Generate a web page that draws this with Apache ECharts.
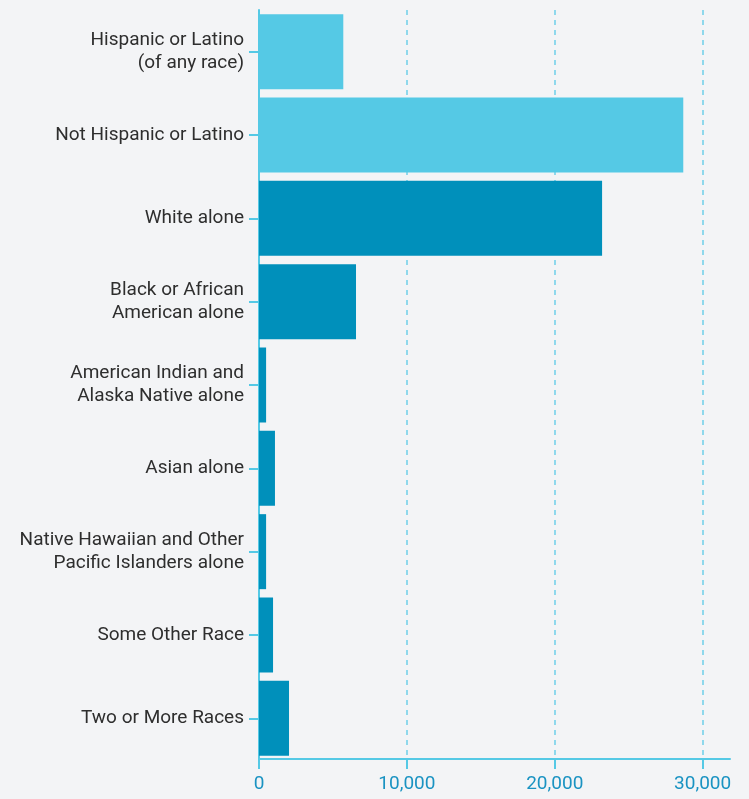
<!DOCTYPE html>
<html><head><meta charset="utf-8">
<script src="https://cdn.jsdelivr.net/npm/echarts@6/dist/echarts.min.js"></script>
<style>html,body{margin:0;padding:0;background:#F3F4F6;}#c{width:749px;height:799px;}</style>
</head><body><div id="c"></div>
<script>
const categories = [
  "Hispanic or Latino\n(of any race)",
  "Not Hispanic or Latino",
  "White alone",
  "Black or African\nAmerican alone",
  "American Indian and\nAlaska Native alone",
  "Asian alone",
  "Native Hawaiian and Other\nPacific Islanders alone",
  "Some Other Race",
  "Two or More Races"
];
const values = [5700, 28690, 23200, 6560, 480, 1080, 480, 950, 2030];
const groups = ["ethnicity","ethnicity","race","race","race","race","race","race","race"];
const xTicks = [0, 10000, 20000, 30000];

const groupColor = {ethnicity: "#55C9E5", race: "#0090BB"};
const chart = echarts.init(document.getElementById('c'), null, {renderer: 'canvas'});
chart.setOption({
  backgroundColor: "#F3F4F6",
  animation: false,
  grid: {left: 259, right: 19, top: 10, bottom: 39, containLabel: false},
  xAxis: {
    type: 'value', min: xTicks[0], max: 31850, offset: -1,
    axisLine: {show: true, lineStyle: {color: "#55C9E5", width: 2}},
    axisTick: {show: true, length: 10, customValues: xTicks, lineStyle: {color: "#55C9E5", width: 2}},
    axisLabel: {color: "#1A93C2", fontSize: 19, fontFamily: "Roboto", margin: 16,
      customValues: xTicks,
      formatter: v => v.toLocaleString('en-US')},
    splitLine: {show: true, lineStyle: {color: "#8FD8EC", width: 2, type: [5, 5]}}
  },
  yAxis: {
    type: 'category', inverse: true, data: categories,
    axisLine: {show: true, lineStyle: {color: "#55C9E5", width: 2}},
    axisTick: {show: true, alignWithLabel: true, length: 10, lineStyle: {color: "#55C9E5", width: 2}},
    axisLabel: {color: "#2E2E2E", fontSize: 19, fontFamily: "Roboto", margin: 15, lineHeight: 23, align: 'right', padding: [3, 0, 0, 0]}
  },
  series: [{
    type: 'bar',
    barCategoryGap: '10%',
    data: values.map((v, i) => ({value: v, itemStyle: {color: groupColor[groups[i]]}}))
  }]
});
</script></body></html>
